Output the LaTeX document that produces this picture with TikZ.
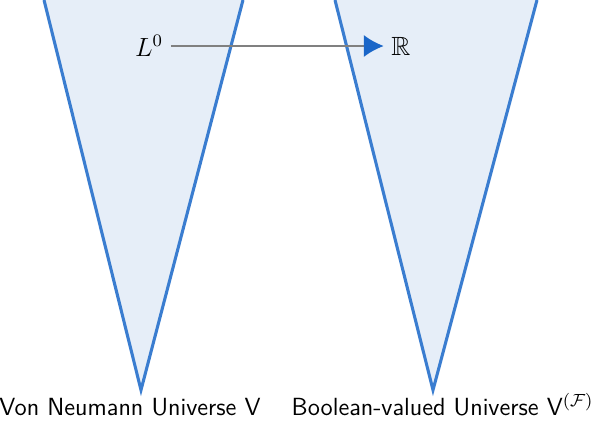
\documentclass[tikz,border=0pt]{standalone}
\usepackage{amsmath,amssymb}
\usepackage{tikz}
\usetikzlibrary{arrows.meta,positioning}
\definecolor{coneblue}{HTML}{3A7DD0}
\definecolor{conefill}{HTML}{E6EEF8}
\definecolor{mapgray}{HTML}{808080}
\definecolor{tipblue}{HTML}{1A66C8}
\tikzset{
  cone/.style={draw=coneblue, line width=1.4pt, fill=conefill},
  univlabel/.style={font=\sffamily\fontsize{11.3}{13}\selectfont, inner sep=0pt, anchor=base},
  mapto/.style={draw=mapgray, line width=0.9pt, -{Latex[length=9pt,width=10pt,color=tipblue]}}
}
\begin{document}
\begin{tikzpicture}[x=0.016cm, y=-0.016cm]
  \useasboundingbox (0,0) rectangle (596,420);
  % the two universes
  \fill[conefill] (44,0) -- (141,390) -- (243,0) -- cycle;
  \draw[cone, fill=none] (44,0) -- (141,390) -- (243,0);
  \fill[conefill] (335,0) -- (433,390) -- (537,0) -- cycle;
  \draw[cone, fill=none] (335,0) -- (433,390) -- (537,0);
  \node[univlabel] (vonneumann) at (130,415) {Von Neumann Universe V};
  \node[univlabel, anchor=base east] (boolval) at (594,415) {Boolean-valued Universe V$^{(\mathcal{F})}$};
  % the map
  \node[font=\large] (lzero) at (149,46) {$L^0$};
  \node[font=\large] (reals) at (401,46) {$\mathbb{R}$};
  \draw[mapto] (lzero) -- (reals);
\end{tikzpicture}
\end{document}
